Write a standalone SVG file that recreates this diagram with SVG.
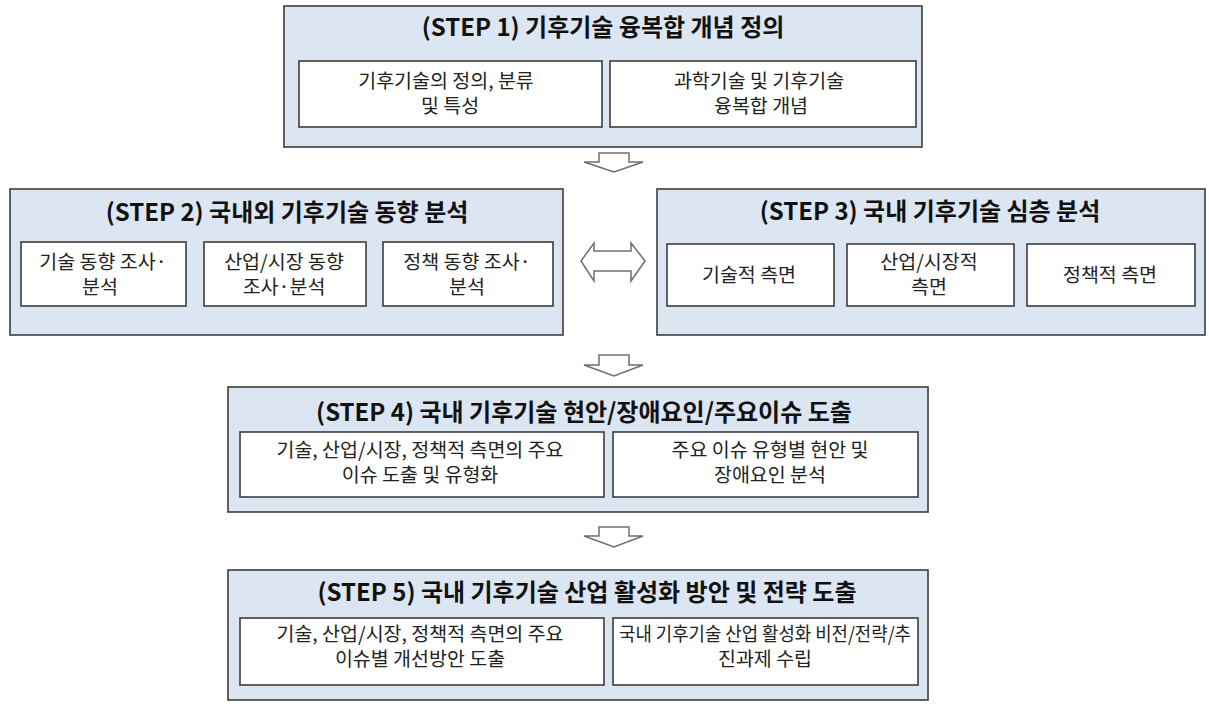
<svg xmlns="http://www.w3.org/2000/svg" width="1209" height="707" viewBox="0 0 1209 707">
<style>
.outer{fill:#dce6f2;stroke:#3c3c3c;stroke-width:1.6}
.inner{fill:#ffffff;stroke:#3c3c3c;stroke-width:1.6}
.title{font-family:"Noto Sans CJK KR","Noto Sans",sans-serif;font-size:24px;font-weight:700;fill:#111;text-anchor:middle}
.body{font-family:"Noto Sans CJK KR","Noto Sans",sans-serif;font-size:19.5px;fill:#222;text-anchor:middle}
.arrow{fill:#ffffff;stroke:#6f6f6f;stroke-width:1.5;stroke-linejoin:miter}
</style>
<rect width="1209" height="707" fill="#ffffff"/>
<g id="step1">
<rect class="outer" x="284" y="6" width="638" height="141"/>
<text class="title" x="603" y="36">(STEP 1) 기후기술 융복합 개념 정의</text>
<rect class="inner" x="299" y="61" width="303" height="66"/>
<text class="body"><tspan x="446" y="88">기후기술의 정의, 분류</tspan><tspan x="450" y="113">및 특성</tspan></text>
<rect class="inner" x="610" y="61" width="306" height="66"/>
<text class="body"><tspan x="759" y="88">과학기술 및 기후기술</tspan><tspan x="761" y="113">융복합 개념</tspan></text>
</g>
<g id="step2">
<rect class="outer" x="10" y="189" width="553" height="146"/>
<text class="title" x="287" y="221">(STEP 2) 국내외 기후기술 동향 분석</text>
<rect class="inner" x="21" y="242" width="165" height="64"/>
<text class="body"><tspan x="103" y="269">기술 동향 조사·</tspan><tspan x="100" y="294">분석</tspan></text>
<rect class="inner" x="204" y="242" width="162" height="64"/>
<text class="body"><tspan x="284" y="269">산업/시장 동향</tspan><tspan x="284" y="294">조사·분석</tspan></text>
<rect class="inner" x="383" y="242" width="170" height="64"/>
<text class="body"><tspan x="467" y="269">정책 동향 조사·</tspan><tspan x="467" y="294">분석</tspan></text>
</g>
<g id="step3">
<rect class="outer" x="657" y="189" width="548" height="146"/>
<text class="title" x="930" y="220">(STEP 3) 국내 기후기술 심층 분석</text>
<rect class="inner" x="667" y="244" width="167" height="62"/>
<text class="body" x="749" y="282">기술적 측면</text>
<rect class="inner" x="847" y="244" width="167" height="62"/>
<text class="body"><tspan x="929" y="269">산업/시장적</tspan><tspan x="929" y="294">측면</tspan></text>
<rect class="inner" x="1027" y="244" width="168" height="62"/>
<text class="body" x="1110" y="282">정책적 측면</text>
</g>
<g id="step4">
<rect class="outer" x="228" y="387" width="700" height="125"/>
<text class="title" x="584" y="421">(STEP 4) 국내 기후기술 현안/장애요인/주요이슈 도출</text>
<rect class="inner" x="240" y="432" width="364" height="65"/>
<text class="body"><tspan x="420" y="457">기술, 산업/시장, 정책적 측면의 주요</tspan><tspan x="420" y="482">이슈 도출 및 유형화</tspan></text>
<rect class="inner" x="613" y="432" width="305" height="65"/>
<text class="body"><tspan x="770" y="457">주요 이슈 유형별 현안 및</tspan><tspan x="770" y="482">장애요인 분석</tspan></text>
</g>
<g id="step5">
<rect class="outer" x="228" y="570" width="700" height="130"/>
<text class="title" x="587" y="601">(STEP 5) 국내 기후기술 산업 활성화 방안 및 전략 도출</text>
<rect class="inner" x="240" y="618" width="364" height="67"/>
<text class="body"><tspan x="420" y="641">기술, 산업/시장, 정책적 측면의 주요</tspan><tspan x="420" y="666">이슈별 개선방안 도출</tspan></text>
<rect class="inner" x="613" y="618" width="305" height="67"/>
<text class="body"><tspan x="765" y="641" textLength="292" lengthAdjust="spacingAndGlyphs">국내 기후기술 산업 활성화 비전/전략/추</tspan><tspan x="765" y="666">진과제 수립</tspan></text>
</g>
<g id="connectors">
<path class="arrow" d="M599,153 H629 V162 H643 L614,172 L584,162 H599 Z"/>
<path class="arrow" d="M581,261 L594,243 V251 H631 V243 L645,261 L631,281 V271 H594 V281 Z"/>
<path class="arrow" d="M599,355 H629 V365 H643 L614,376 L584,365 H599 Z"/>
<path class="arrow" d="M599,527 H629 V536 H643 L614,547 L584,536 H599 Z"/>
</g>
</svg>
